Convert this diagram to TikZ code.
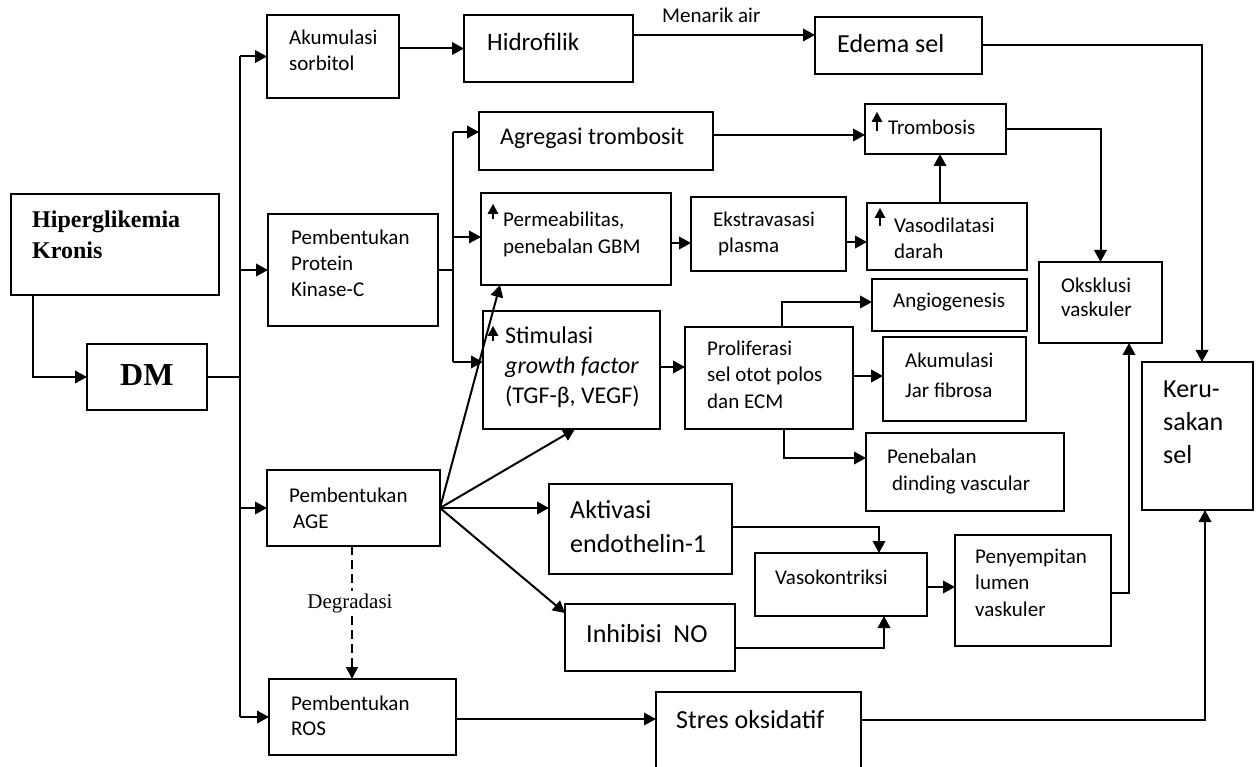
\documentclass[tikz,border=0pt]{standalone}
\usepackage{fontspec}
\setmainfont{Carlito}
\newfontfamily\tnr{Liberation Serif}
\usetikzlibrary{arrows.meta}
\newcommand\mybox[5]{\node[box, minimum width={(#4-#2)*1pt}, minimum height={(#5-#3)*1pt}] (#1) at ({(#2+#4)/2},{(#3+#5)/2}) {};}
\newcommand\upmark[3]{\fill ({#1-5.5},{#2+10}) -- (#1,#2) -- ({#1+5.5},{#2+10}) -- cycle; \draw[line width=2pt] (#1,{#2+9}) -- (#1,#3);}
\tikzset{
  box/.style={draw, line width=1.8pt, inner sep=0pt, outer sep=0pt},
  txt/.style={anchor=base west, inner sep=0pt, align=left, font=\fontsize{21}{26}\selectfont},
  fmd/.style={font=\fontsize{24}{30}\selectfont},
  flg/.style={font=\fontsize{26}{32}\selectfont},
  flgb/.style={font=\fontsize{26}{34}\selectfont},
  ln/.style={line width=2pt},
  arr/.style={line width=2pt, -{Triangle[length=12pt,width=12.5pt]}},
  darr/.style={line width=1.5pt, dash pattern=on 9pt off 5pt, -{Triangle[length=12pt,width=12pt]}},
}
\begin{document}
\begin{tikzpicture}[x=1pt,y=-1pt]
\useasboundingbox (0,0) rectangle (1259,767);
% boxes and texts (text nodes are placed at the baseline of their last line)
\mybox{hip}{11}{194}{219}{295}
\node[txt, font=\tnr\bfseries\fontsize{24}{31}\selectfont] (hipt) at (32,259) {Hiperglikemia\\Kronis};
\mybox{dm}{87}{344}{207}{410}
\node[txt, font=\tnr\bfseries\fontsize{32}{38}\selectfont] (dmt) at (120,385) {DM};
\mybox{sorb}{267}{15}{399}{98}
\node[txt] (sorbt) at (289,71) {Akumulasi\\sorbitol};
\mybox{hidro}{464}{15}{633}{82}
\node[txt, font=\fontsize{25}{30}\selectfont] (hidrot) at (487,51) {Hidrofilik};
\mybox{edema}{815}{17}{982}{74}
\node[txt, flg] (edemat) at (837,53) {Edema sel};
\node[txt] (menarik) at (662,23) {Menarik air};
\mybox{pkc}{268}{214}{438}{326}
\node[txt] (pkct) at (291,297) {Pembentukan\\Protein\\Kinase-C};
\mybox{agr}{479}{112}{713}{170}
\node[txt, fmd] (agrt) at (500,145) {Agregasi trombosit};
\mybox{trom}{865}{104}{1006}{154}
\node[txt] (tromt) at (888,135) {Trombosis};
\mybox{perm}{481}{193}{671}{285}
\node[txt, font=\fontsize{21}{27}\selectfont] (permt) at (503,254) {Permeabilitas,\\penebalan GBM};
\mybox{ekst}{691}{197}{846}{271}
\node[txt] (ekstt) at (713,253) {Ekstravasasi\\\hspace*{5pt}plasma};
\mybox{vdil}{867}{203}{1027}{270}
\node[txt] (vdilt) at (894,259) {Vasodilatasi\\darah};
\mybox{angio}{872}{279}{1027}{331}
\node[txt] (angiot) at (893,308) {Angiogenesis};
\mybox{oks}{1039}{262}{1162}{343}
\node[txt, font=\fontsize{21}{24}\selectfont] (okst) at (1061,317) {Oksklusi\\vaskuler};
\mybox{ker}{1142}{362}{1253}{510}
\node[txt, font=\fontsize{26}{33}\selectfont] (kert) at (1163,463) {Keru-\\sakan\\sel};
\mybox{stim}{483}{311}{660}{429}
\node[txt, fmd] (stimt) at (505,403) {Stimulasi\\\textit{growth factor}\\(TGF-β, VEGF)};
\mybox{prol}{685}{327}{853}{429}
\node[txt, font=\fontsize{21}{26.5}\selectfont] (prolt) at (707,408) {Proliferasi\\sel otot polos\\dan ECM};
\mybox{jar}{883}{337}{1026}{421}
\node[txt, font=\fontsize{21}{30}\selectfont] (jart) at (905,397) {Akumulasi\\Jar fibrosa};
\mybox{pene}{866}{433}{1064}{511}
\node[txt, font=\fontsize{21}{27}\selectfont] (penet) at (887,490) {Penebalan\\\hspace*{5pt}dinding vascular};
\mybox{age}{267}{470}{440}{546}
\node[txt] (aget) at (289,528) {Pembentukan\\\hspace*{4pt}AGE};
\mybox{akt}{549}{484}{732}{574}
\node[txt, flgb] (aktt) at (570,552) {Aktivasi\\endothelin-1};
\mybox{vk}{755}{553}{927}{616}
\node[txt] (vkt) at (775,584) {Vasokontriksi};
\mybox{peny}{955}{535}{1111}{646}
\node[txt, font=\fontsize{21}{26.5}\selectfont] (penyt) at (975,616) {Penyempitan\\lumen\\vaskuler};
\mybox{inh}{565}{604}{735}{671}
\node[txt, flg] (inht) at (586,642) {Inhibisi\ \ NO};
\mybox{ros}{269}{679}{456}{755}
\node[txt, font=\fontsize{21}{25}\selectfont] (rost) at (291,735) {Pembentukan\\ROS};
\mybox{stres}{656}{692}{861}{790}
\node[txt, flg] (strest) at (676,728) {Stres oksidatif};
% up arrows inside boxes
\upmark{877}{112}{131}
\upmark{493}{204}{219}
\upmark{880}{208}{226}
\upmark{493}{326}{341}
% connectors
\draw[arr] ([xshift=22pt]hip.south west) |- (dm.west);
\draw[ln] (dm.east) -- (dm.east -| 240,0);
\draw[ln] (sorb.west -| 240,0) -- (ros.west -| 240,0);
\draw[arr] (sorb.west -| 240,0) -- (sorb.west);
\draw[arr] (pkc.west -| 240,0) -- (pkc.west);
\draw[arr] (age.west -| 240,0) -- (age.west);
\draw[arr] (ros.west -| 240,0) -- (ros.west);
\draw[arr] (sorb.east |- hidro.west) -- (hidro.west);
\draw[arr] (hidro.east |- 0,35) -- (edema.west |- 0,35);
\draw[arr] (edema.east) -| (ker.north -| 1202,0);
\draw[ln] (pkc.east) -- (pkc.east -| 453,0);
\draw[ln] (453,132) -- (453,362);
\draw[arr] (453,132) -- (agr.west |- 0,132);
\draw[arr] (453,237) -- (perm.west |- 0,237);
\draw[arr] (453,362) -- (stim.west |- 0,362);
\draw[arr] (agr.east |- 0,135) -- (trom.west |- 0,135);
\draw[arr] (trom.east) -| (oks.north);
\draw[arr] (perm.east |- 0,243) -- (ekst.west |- 0,243);
\draw[arr] (ekst.east |- 0,242) -- (vdil.west |- 0,242);
\draw[arr] (vdil.north -| 940,0) -- (trom.south -| 940,0);
\draw[arr] (stim.east |- 0,367) -- (prol.west |- 0,367);
\draw[arr] (prol.north -| 782,0) |- (angio.west |- 0,302);
\draw[arr] (prol.east |- 0,376) -- (jar.west |- 0,376);
\draw[arr] (prol.south -| 784,0) |- (pene.west |- 0,458);
\draw[arr] (age.east) -- (perm.south -| 500,0);
\draw[arr] (age.east) -- (stim.south -| 575,0);
\draw[arr] (age.east) -- (akt.west |- age.east);
\draw[arr] (age.east) -- (inh.west |- 0,613);
\draw[arr] (akt.east |- 0,527) -| (vk.north -| 879,0);
\draw[arr] (inh.east |- 0,648) -| (vk.south -| 884,0);
\draw[arr] (vk.east |- 0,587) -- (peny.west |- 0,587);
\draw[arr] (peny.east |- 0,593) -| (oks.south -| 1129,0);
\draw[arr] (ros.east |- 0,719) -- (stres.west |- 0,719);
\draw[arr] (stres.east |- 0,720) -| (ker.south -| 1205,0);
\draw[darr] (age.south -| 352,0) -- (ros.north -| 352,0);
\node[fill=white, inner sep=2pt, font=\tnr\fontsize{21}{24}\selectfont] (degr) at (350,603) {Degradasi};
\end{tikzpicture}
\end{document}
